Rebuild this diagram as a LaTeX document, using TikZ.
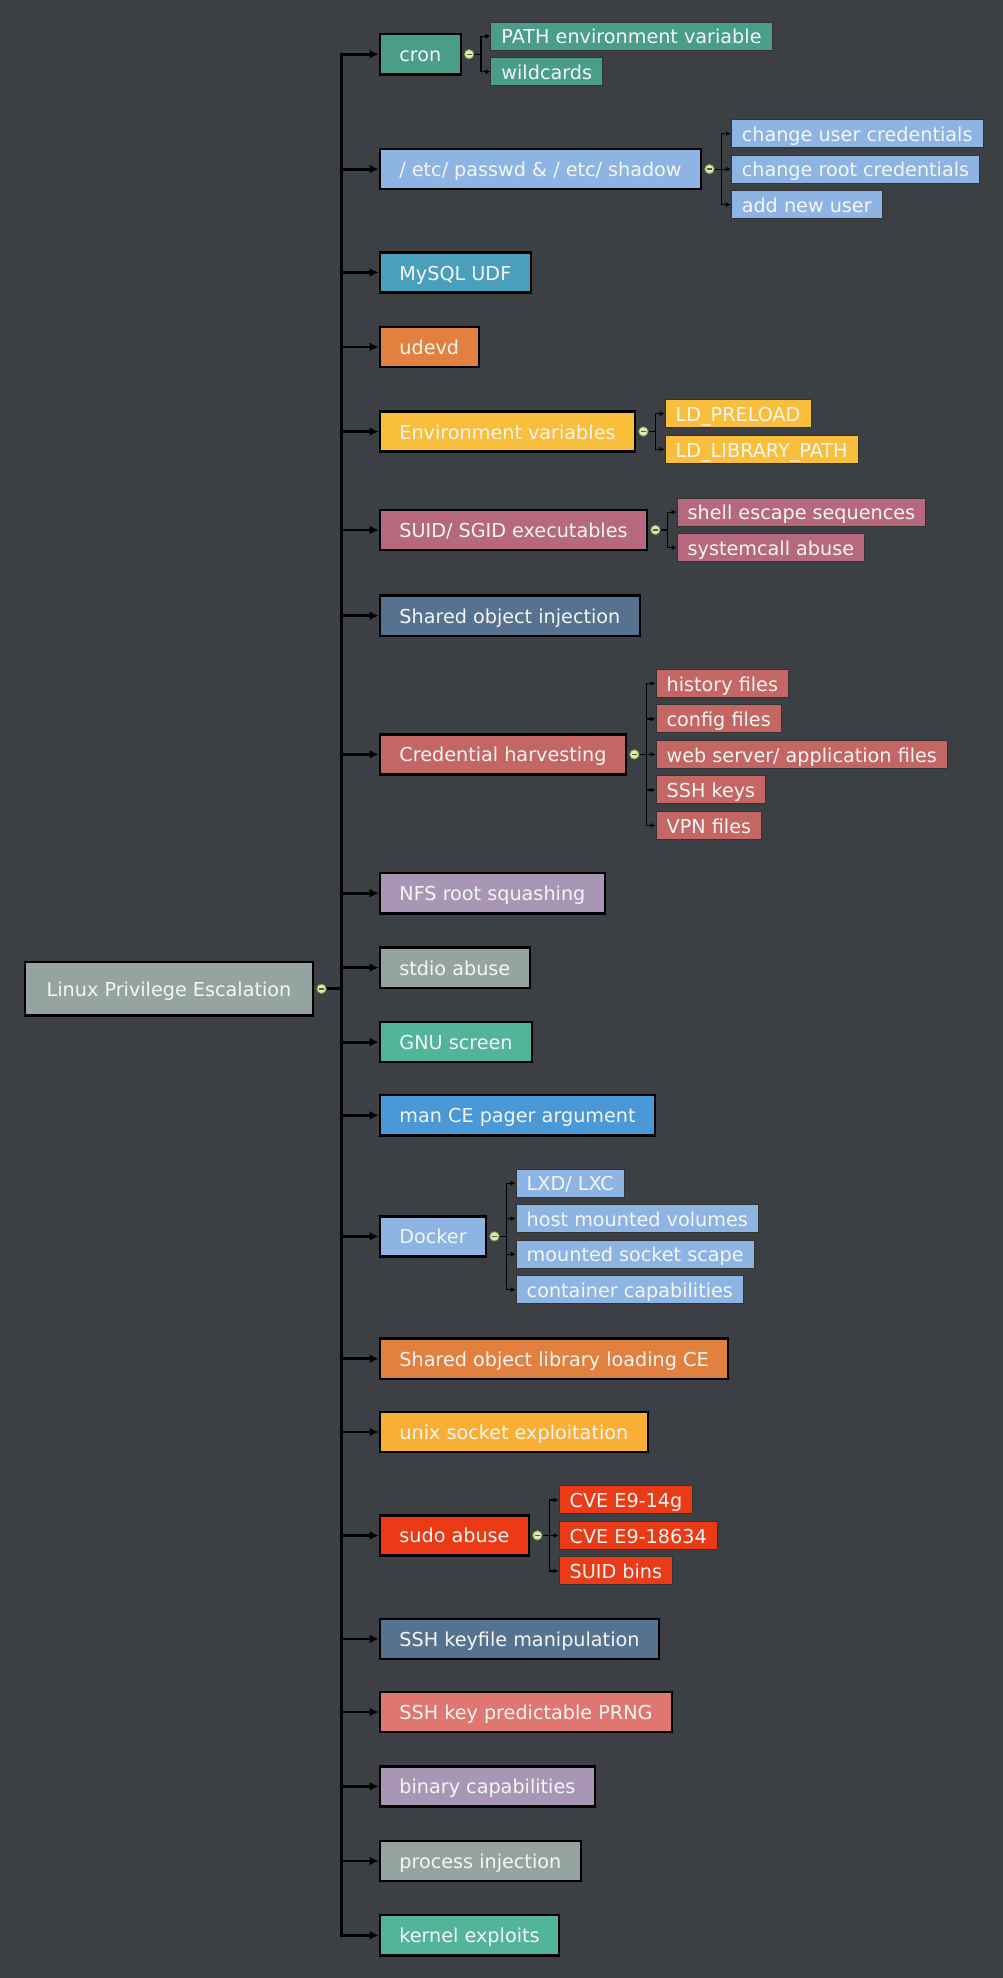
\documentclass[tikz,border=0pt]{standalone}
\usepackage{fontspec}
\setmainfont{DejaVu Sans}
\usetikzlibrary{arrows.meta,positioning}

\definecolor{bgcol}{HTML}{3C3F44}
\definecolor{txtcol}{HTML}{F4F6F4}
\definecolor{croncol}{HTML}{4A9D86}
\definecolor{passwdcol}{HTML}{8DB4E2}
\definecolor{mysqlcol}{HTML}{4AA0BC}
\definecolor{orangecol}{HTML}{E28040}
\definecolor{yellowcol}{HTML}{F9BE3B}
\definecolor{suidcol}{HTML}{B5687E}
\definecolor{slatecol}{HTML}{57728F}
\definecolor{credcol}{HTML}{C46663}
\definecolor{lilaccol}{HTML}{A996B5}
\definecolor{greycol}{HTML}{95A4A1}
\definecolor{mintcol}{HTML}{52B598}
\definecolor{mancol}{HTML}{4A98D6}
\definecolor{unixcol}{HTML}{F9AE35}
\definecolor{sudocol}{HTML}{EA3A16}
\definecolor{prngcol}{HTML}{E07670}
\definecolor{foldfill}{HTML}{DDE8B4}
\definecolor{foldline}{HTML}{6F8F45}

\newcommand{\slgap}{/\hspace{6pt}}

\tikzset{
  topic/.style={draw=black, line width=2.4pt, fill=#1, text=txtcol, anchor=west,
    inner xsep=19.6pt, minimum height=40.2pt, text height=15pt, text depth=0pt,
    font=\fontsize{19.2}{23}\selectfont},
  subtopic/.style={draw=black!80, line width=1pt, fill=#1, text=txtcol, anchor=west,
    inner xsep=10.5pt, minimum height=28pt, text height=15.5pt, text depth=0pt,
    font=\fontsize{19.2}{23}\selectfont},
  fold/.style={circle, draw=foldline, fill=foldfill, line width=0.8pt, inner sep=0pt,
    minimum size=9.5pt,
    path picture={\draw[foldline!70!black, line width=1.4pt]
      ([xshift=-2.6pt]path picture bounding box.center) --
      ([xshift=2.6pt]path picture bounding box.center);}},
  mainlink/.style={black, line width=2.8pt, -{Latex[length=9pt,width=9pt]}},
  sublink/.style={black, line width=1.2pt, -{Latex[length=5pt,width=5pt]}},
}

\begin{document}
\begin{tikzpicture}[x=1pt,y=-1pt]
\fill[bgcol] (0,0) rectangle (1003,1978);

% root
\node[topic=greycol, minimum height=53.3pt, inner xsep=22pt] (root) at (23.5,988.8) {Linux Privilege Escalation};
\node[fold] (roottg) at ([xshift=7pt]root.east) {};
\coordinate (trunk) at ([xshift=15pt]roottg.east);

% first level
\node[topic=croncol] (cron) at (378.6,54.2) {cron};
\node[topic=passwdcol] (passwd) at (378.6,169.1) {\slgap etc\slgap passwd \& \slgap etc\slgap shadow};
\node[topic=mysqlcol] (mysql) at (378.6,272.5) {MySQL UDF};
\node[topic=orangecol] (udevd) at (378.6,346.9) {udevd};
\node[topic=yellowcol] (envvar) at (378.6,431.5) {Environment variables};
\node[topic=suidcol] (suid) at (378.6,529.9) {SUID\slgap SGID executables};
\node[topic=slatecol] (soinj) at (378.6,615.7) {Shared object injection};
\node[topic=credcol] (cred) at (378.6,754.4) {Credential harvesting};
\node[topic=lilaccol] (nfs) at (378.6,893.2) {NFS root squashing};
\node[topic=greycol] (stdio) at (378.6,967.6) {stdio abuse};
\node[topic=mintcol] (screen) at (378.6,1042.1) {GNU screen};
\node[topic=mancol] (man) at (378.6,1115.3) {man CE pager argument};
\node[topic=passwdcol] (docker) at (378.6,1236.4) {Docker};
\node[topic=orangecol] (solib) at (378.6,1358.7) {Shared object library loading CE};
\node[topic=unixcol] (unixsock) at (378.6,1432.0) {unix socket exploitation};
\node[topic=sudocol] (sudo) at (378.6,1535.4) {sudo abuse};
\node[topic=slatecol] (sshkey) at (378.6,1638.9) {SSH keyfile manipulation};
\node[topic=prngcol] (prng) at (378.6,1712.0) {SSH key predictable PRNG};
\node[topic=lilaccol] (bincap) at (378.6,1786.4) {binary capabilities};
\node[topic=greycol] (procinj) at (378.6,1860.9) {process injection};
\node[topic=mintcol] (kernel) at (378.6,1935.3) {kernel exploits};

\foreach \n in {cron,passwd,mysql,udevd,envvar,suid,soinj,cred,nfs,stdio,screen,
  man,docker,solib,unixsock,sudo,sshkey,prng,bincap,procinj,kernel}
  \draw[mainlink] (roottg.east) -- (trunk) |- (\n.west);

% cron
\node[fold] (crontg) at ([xshift=7pt]cron.east) {};
\coordinate (cronbr) at ([xshift=6.8pt]crontg.east);
\node[subtopic=croncol] (cron1) at ([xshift=28.3pt,yshift=18pt]cron.east) {PATH environment variable};
\node[subtopic=croncol] (cron2) at ([xshift=28.3pt,yshift=-17.5pt]cron.east) {wildcards};
\draw[sublink] (crontg.east) -- (cronbr) |- (cron1.west);
\draw[sublink] (crontg.east) -- (cronbr) |- (cron2.west);

% passwd
\node[fold] (passwdtg) at ([xshift=7pt]passwd.east) {};
\coordinate (passwdbr) at ([xshift=6.8pt]passwdtg.east);
\node[subtopic=passwdcol] (passwd1) at ([xshift=28.3pt,yshift=35.5pt]passwd.east) {change user credentials};
\node[subtopic=passwdcol] (passwd2) at ([xshift=28.3pt]passwd.east) {change root credentials};
\node[subtopic=passwdcol] (passwd3) at ([xshift=28.3pt,yshift=-35.5pt]passwd.east) {add new user};
\draw[sublink] (passwdtg.east) -- (passwdbr) |- (passwd1.west);
\draw[sublink] (passwdtg.east) -- (passwdbr) |- (passwd2.west);
\draw[sublink] (passwdtg.east) -- (passwdbr) |- (passwd3.west);

% environment variables
\node[fold] (envvartg) at ([xshift=7pt]envvar.east) {};
\coordinate (envvarbr) at ([xshift=6.8pt]envvartg.east);
\node[subtopic=yellowcol] (envvar1) at ([xshift=28.3pt,yshift=17.75pt]envvar.east) {LD\_PRELOAD};
\node[subtopic=yellowcol] (envvar2) at ([xshift=28.3pt,yshift=-17.75pt]envvar.east) {LD\_LIBRARY\_PATH};
\draw[sublink] (envvartg.east) -- (envvarbr) |- (envvar1.west);
\draw[sublink] (envvartg.east) -- (envvarbr) |- (envvar2.west);

% suid
\node[fold] (suidtg) at ([xshift=7pt]suid.east) {};
\coordinate (suidbr) at ([xshift=6.8pt]suidtg.east);
\node[subtopic=suidcol] (suid1) at ([xshift=28.3pt,yshift=17.75pt]suid.east) {shell escape sequences};
\node[subtopic=suidcol] (suid2) at ([xshift=28.3pt,yshift=-17.75pt]suid.east) {systemcall abuse};
\draw[sublink] (suidtg.east) -- (suidbr) |- (suid1.west);
\draw[sublink] (suidtg.east) -- (suidbr) |- (suid2.west);

% credential harvesting
\node[fold] (credtg) at ([xshift=7pt]cred.east) {};
\coordinate (credbr) at ([xshift=6.8pt]credtg.east);
\node[subtopic=credcol] (cred1) at ([xshift=28.3pt,yshift=71pt]cred.east) {history files};
\node[subtopic=credcol] (cred2) at ([xshift=28.3pt,yshift=35.5pt]cred.east) {config files};
\node[subtopic=credcol] (cred3) at ([xshift=28.3pt]cred.east) {web server\slgap application files};
\node[subtopic=credcol] (cred4) at ([xshift=28.3pt,yshift=-35.5pt]cred.east) {SSH keys};
\node[subtopic=credcol] (cred5) at ([xshift=28.3pt,yshift=-71pt]cred.east) {VPN files};
\draw[sublink] (credtg.east) -- (credbr) |- (cred1.west);
\draw[sublink] (credtg.east) -- (credbr) |- (cred2.west);
\draw[sublink] (credtg.east) -- (credbr) |- (cred3.west);
\draw[sublink] (credtg.east) -- (credbr) |- (cred4.west);
\draw[sublink] (credtg.east) -- (credbr) |- (cred5.west);

% docker
\node[fold] (dockertg) at ([xshift=7pt]docker.east) {};
\coordinate (dockerbr) at ([xshift=6.8pt]dockertg.east);
\node[subtopic=passwdcol] (docker1) at ([xshift=28.3pt,yshift=53.25pt]docker.east) {LXD\slgap LXC};
\node[subtopic=passwdcol] (docker2) at ([xshift=28.3pt,yshift=17.75pt]docker.east) {host mounted volumes};
\node[subtopic=passwdcol] (docker3) at ([xshift=28.3pt,yshift=-17.75pt]docker.east) {mounted socket scape};
\node[subtopic=passwdcol] (docker4) at ([xshift=28.3pt,yshift=-53.25pt]docker.east) {container capabilities};
\draw[sublink] (dockertg.east) -- (dockerbr) |- (docker1.west);
\draw[sublink] (dockertg.east) -- (dockerbr) |- (docker2.west);
\draw[sublink] (dockertg.east) -- (dockerbr) |- (docker3.west);
\draw[sublink] (dockertg.east) -- (dockerbr) |- (docker4.west);

% sudo
\node[fold] (sudotg) at ([xshift=7pt]sudo.east) {};
\coordinate (sudobr) at ([xshift=6.8pt]sudotg.east);
\node[subtopic=sudocol] (sudo1) at ([xshift=28.3pt,yshift=35.5pt]sudo.east) {CVE E9-14g};
\node[subtopic=sudocol] (sudo2) at ([xshift=28.3pt]sudo.east) {CVE E9-18634};
\node[subtopic=sudocol] (sudo3) at ([xshift=28.3pt,yshift=-35.5pt]sudo.east) {SUID bins};
\draw[sublink] (sudotg.east) -- (sudobr) |- (sudo1.west);
\draw[sublink] (sudotg.east) -- (sudobr) |- (sudo2.west);
\draw[sublink] (sudotg.east) -- (sudobr) |- (sudo3.west);

\end{tikzpicture}
\end{document}
